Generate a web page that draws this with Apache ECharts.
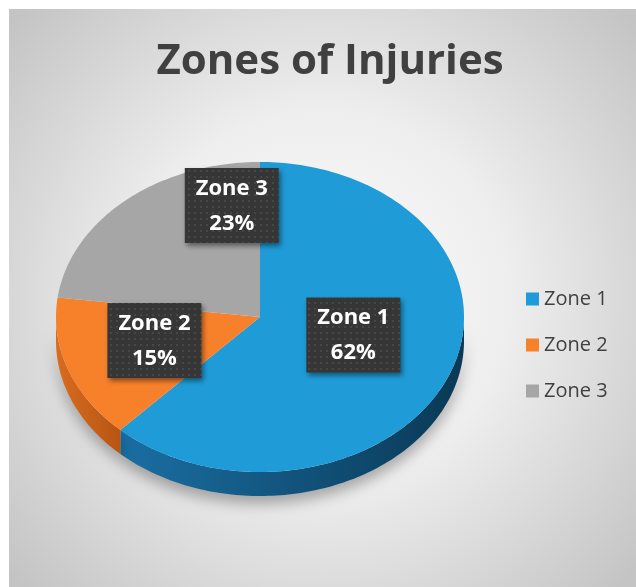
<!DOCTYPE html>
<html>
<head>
<meta charset="utf-8">
<script src="https://cdn.jsdelivr.net/npm/echarts@6/dist/echarts.min.js"></script>
<style>
  html, body { margin: 0; padding: 0; background: #fff; }
  #chart { width: 636px; height: 587px; }
</style>
</head>
<body>
<div id="chart"></div>
<script>
// data
var categories = ['Zone 1', 'Zone 2', 'Zone 3']
var values = [62, 15, 23]
var colors = ['#1f9bd7', '#f7812b', '#a6a6a6']
var sideColors = [['#1a6fa3', '#0a3855'], ['#d86c1f', '#b85513'], ['#8c8c8c', '#7a7a7a']]

// pie geometry (tilted look)
var cx = 260
var cy = 317
var rx = 204
var ry = 155
var depth = 24
var total = values.reduce(function (a, b) { return a + b }, 0)

function pt (t, dy) {
  return [cx + rx * Math.sin(t), cy - ry * Math.cos(t) + (dy || 0)]
}

function arc (a0, a1, dy) {
  var n = Math.max(2, Math.ceil((a1 - a0) / 0.02))
  var pts = []
  for (var k = 0; k <= n; k++) {
    pts.push(pt(a0 + (a1 - a0) * k / n, dy))
  }
  return pts
}

// dotted dark fill for the label boxes
var dots = document.createElement('canvas')
dots.width = 6
dots.height = 6
var dctx = dots.getContext('2d')
dctx.fillStyle = '#363636'
dctx.fillRect(0, 0, 6, 6)
dctx.fillStyle = '#474747'
dctx.fillRect(2, 2, 2, 2)

// label offset per slice (Excel moved Zone 3's label toward the top)
var labelShift = [[-11, -14], [0, -6], [46, -48]]

function renderSlice (params, api) {
  var i = params.seriesIndex
  var v = api.value(0)
  var before = 0
  for (var j = 0; j < i; j++) before += values[j]
  var a0 = before / total * Math.PI * 2
  var a1 = (before + v) / total * Math.PI * 2
  var children = []

  // visible front rim: between 90 and 270 degrees
  var s0 = Math.max(a0, Math.PI / 2)
  var s1 = Math.min(a1, Math.PI * 3 / 2)
  if (s1 > s0) {
    var up = arc(s0, s1, 0)
    var down = arc(s0, s1, depth).reverse()
    children.push({
      type: 'polygon',
      shape: { points: up.concat(down) },
      style: {
        fill: new echarts.graphic.LinearGradient(0, 0, 1, 0, [
          { offset: 0, color: sideColors[i][0] },
          { offset: 1, color: sideColors[i][1] }
        ]),
        shadowBlur: 14,
        shadowOffsetY: 8,
        shadowColor: 'rgba(0,0,0,0.3)'
      }
    })
  }

  children.push({
    type: 'polygon',
    shape: { points: [[cx, cy]].concat(arc(a0, a1, 0)) },
    style: { fill: colors[i] }
  })

  var mid = (a0 + a1) / 2
  var lp = [cx + rx * 0.55 * Math.sin(mid) + labelShift[i][0], cy - ry * 0.55 * Math.cos(mid) + labelShift[i][1]]
  children.push({
    type: 'rect',
    z2: 10,
    shape: { x: lp[0] - 47, y: lp[1] - 37, width: 94, height: 75 },
    style: {
      fill: { image: dots, repeat: 'repeat' },
      shadowBlur: 5,
      shadowOffsetX: 2,
      shadowOffsetY: 3,
      shadowColor: 'rgba(0,0,0,0.45)'
    }
  })
  children.push({
    type: 'text',
    z2: 11,
    style: {
      text: categories[i] + '\n' + Math.round(v / total * 100) + '%',
      x: lp[0],
      y: lp[1] + 1,
      align: 'center',
      verticalAlign: 'middle',
      fill: '#ffffff',
      font: 'bold 22px "Open Sans"',
      lineHeight: 35
    }
  })
  return { type: 'group', children: children }
}

var myChart = echarts.init(document.getElementById('chart'))
var option = {
  backgroundColor: '#ffffff',
  animation: false,
  graphic: [{
    type: 'rect',
    z: -10,
    shape: { x: 9, y: 9, width: 627, height: 578 },
    style: {
      fill: new echarts.graphic.RadialGradient(0.5, 0.5, 0.72, [
        { offset: 0, color: '#fcfcfc' },
        { offset: 0.45, color: '#eeeeee' },
        { offset: 1, color: '#c4c4c4' }
      ])
    }
  }],
  title: {
    text: 'Zones of Injuries',
    left: 325,
    top: 36,
    textAlign: 'center',
    textStyle: {
      fontSize: 42,
      fontWeight: 'bold',
      color: '#404040',
      fontFamily: 'Open Sans'
    }
  },
  legend: {
    orient: 'vertical',
    left: 521,
    top: 284,
    icon: 'rect',
    itemWidth: 13,
    itemHeight: 13,
    itemGap: 26,
    data: categories,
    textStyle: {
      fontSize: 20,
      lineHeight: 20,
      color: '#404040',
      fontFamily: 'Open Sans'
    }
  },
  series: categories.map(function (name, i) {
    return {
      name: name,
      type: 'custom',
      coordinateSystem: 'none',
      itemStyle: { color: colors[i] },
      renderItem: renderSlice,
      data: [[values[i]]]
    }
  })
}
myChart.setOption(option)
</script>
</body>
</html>
